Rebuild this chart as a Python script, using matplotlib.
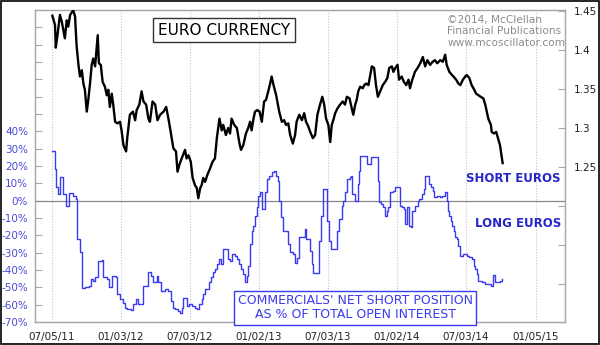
import matplotlib
matplotlib.use("Agg")
from matplotlib import pyplot as plt
from matplotlib.patches import Rectangle
import pandas as pd

# Euro currency (USD per EUR)
euro_dates = [
    "2011-07-06", "2011-07-13", "2011-07-15", "2011-07-19", "2011-07-26", "2011-07-31", "2011-08-08",
    "2011-08-13", "2011-08-17", "2011-08-22", "2011-08-30", "2011-09-04", "2011-09-08", "2011-09-13",
    "2011-09-17", "2011-09-22", "2011-09-26", "2011-09-30", "2011-10-05", "2011-10-09", "2011-10-14",
    "2011-10-18", "2011-10-22", "2011-10-27", "2011-10-31", "2011-11-03", "2011-11-06", "2011-11-11",
    "2011-11-16", "2011-11-22", "2011-11-27", "2011-12-01", "2011-12-05", "2011-12-10", "2011-12-14",
    "2011-12-19", "2011-12-25", "2012-01-01", "2012-01-05", "2012-01-10", "2012-01-17", "2012-01-20",
    "2012-01-27", "2012-02-04", "2012-02-10", "2012-02-14", "2012-02-21", "2012-02-27", "2012-03-03",
    "2012-03-10", "2012-03-16", "2012-03-20", "2012-03-27", "2012-04-03", "2012-04-09", "2012-04-16",
    "2012-04-25", "2012-05-02", "2012-05-08", "2012-05-14", "2012-05-21", "2012-05-28", "2012-06-01",
    "2012-06-06", "2012-06-12", "2012-06-21", "2012-06-25", "2012-06-30", "2012-07-06", "2012-07-11",
    "2012-07-17", "2012-07-22", "2012-07-26", "2012-07-31", "2012-08-04", "2012-08-08", "2012-08-13",
    "2012-08-19", "2012-08-26", "2012-09-02", "2012-09-08", "2012-09-13", "2012-09-20", "2012-09-26",
    "2012-09-30", "2012-10-07", "2012-10-13", "2012-10-18", "2012-10-22", "2012-10-29", "2012-11-05",
    "2012-11-12", "2012-11-16", "2012-11-22", "2012-11-29", "2012-12-05", "2012-12-10", "2012-12-14",
    "2012-12-19", "2012-12-23", "2012-12-29", "2013-01-04", "2013-01-10", "2013-01-16", "2013-01-21",
    "2013-01-27", "2013-02-01", "2013-02-05", "2013-02-10", "2013-02-17", "2013-02-20", "2013-02-25",
    "2013-03-04", "2013-03-10", "2013-03-15", "2013-03-21", "2013-03-26", "2013-04-02", "2013-04-08",
    "2013-04-12", "2013-04-19", "2013-04-26", "2013-05-02", "2013-05-07", "2013-05-13", "2013-05-18",
    "2013-05-25", "2013-05-31", "2013-06-06", "2013-06-13", "2013-06-19", "2013-06-24", "2013-06-29",
    "2013-07-05", "2013-07-10", "2013-07-14", "2013-07-18", "2013-07-23", "2013-07-29", "2013-08-05",
    "2013-08-12", "2013-08-18", "2013-08-23", "2013-08-30", "2013-09-05", "2013-09-09", "2013-09-14",
    "2013-09-18", "2013-09-22", "2013-09-27", "2013-10-04", "2013-10-08", "2013-10-13", "2013-10-19",
    "2013-10-23", "2013-10-28", "2013-11-03", "2013-11-08", "2013-11-13", "2013-11-19", "2013-11-26",
    "2013-12-02", "2013-12-08", "2013-12-13", "2013-12-20", "2013-12-24", "2013-12-29", "2014-01-04",
    "2014-01-08", "2014-01-15", "2014-01-21", "2014-01-27", "2014-02-02", "2014-02-06", "2014-02-12",
    "2014-02-19", "2014-02-26", "2014-03-05", "2014-03-12", "2014-03-18", "2014-03-24", "2014-03-31",
    "2014-04-07", "2014-04-13", "2014-04-19", "2014-04-27", "2014-05-04", "2014-05-10", "2014-05-14",
    "2014-05-21", "2014-05-28", "2014-06-01", "2014-06-08", "2014-06-14", "2014-06-19", "2014-06-26",
    "2014-07-02", "2014-07-06", "2014-07-13", "2014-07-19", "2014-07-26", "2014-07-31", "2014-08-06",
    "2014-08-12", "2014-08-19", "2014-08-24", "2014-08-28", "2014-09-01", "2014-09-08", "2014-09-10",
    "2014-09-16", "2014-09-22", "2014-09-28", "2014-10-02", "2014-10-06", "2014-10-09",
]
euro_price = [
    1.444, 1.432, 1.403, 1.417, 1.445, 1.436, 1.415,
    1.438, 1.430, 1.445, 1.451, 1.443, 1.406, 1.381,
    1.366, 1.374, 1.357, 1.349, 1.321, 1.336, 1.359,
    1.381, 1.389, 1.379, 1.402, 1.419, 1.383, 1.381,
    1.359, 1.353, 1.342, 1.349, 1.327, 1.344, 1.330,
    1.308, 1.306, 1.308, 1.297, 1.278, 1.270, 1.287,
    1.317, 1.321, 1.310, 1.323, 1.330, 1.347, 1.334,
    1.330, 1.312, 1.308, 1.334, 1.330, 1.310, 1.317,
    1.321, 1.327, 1.312, 1.295, 1.274, 1.270, 1.244,
    1.253, 1.261, 1.272, 1.261, 1.265, 1.257, 1.236,
    1.227, 1.223, 1.210, 1.223, 1.227, 1.236, 1.231,
    1.240, 1.248, 1.257, 1.261, 1.287, 1.312, 1.297,
    1.304, 1.291, 1.300, 1.293, 1.312, 1.304, 1.300,
    1.280, 1.272, 1.278, 1.293, 1.300, 1.308, 1.297,
    1.312, 1.321, 1.323, 1.321, 1.308, 1.334, 1.336,
    1.347, 1.357, 1.366, 1.355, 1.342, 1.334, 1.321,
    1.308, 1.310, 1.304, 1.306, 1.291, 1.280, 1.291,
    1.308, 1.317, 1.310, 1.319, 1.308, 1.302, 1.295,
    1.287, 1.291, 1.317, 1.330, 1.340, 1.330, 1.312,
    1.304, 1.282, 1.304, 1.310, 1.319, 1.325, 1.330,
    1.334, 1.330, 1.340, 1.338, 1.325, 1.317, 1.330,
    1.336, 1.347, 1.353, 1.351, 1.355, 1.357, 1.355,
    1.366, 1.379, 1.377, 1.355, 1.340, 1.347, 1.355,
    1.359, 1.364, 1.377, 1.379, 1.372, 1.377, 1.381,
    1.362, 1.366, 1.359, 1.355, 1.362, 1.351, 1.362,
    1.372, 1.377, 1.383, 1.391, 1.379, 1.387, 1.381,
    1.385, 1.387, 1.383, 1.387, 1.385, 1.394, 1.381,
    1.372, 1.368, 1.366, 1.362, 1.357, 1.355, 1.362,
    1.366, 1.368, 1.364, 1.355, 1.349, 1.344, 1.342,
    1.340, 1.338, 1.330, 1.321, 1.312, 1.304, 1.295,
    1.293, 1.295, 1.285, 1.278, 1.265, 1.255,
]

# Commercials' net short position, % of total open interest (weekly COT)
cot_dates = [
    "2011-07-06", "2011-07-13", "2011-07-15", "2011-07-22", "2011-07-26", "2011-08-02", "2011-08-11",
    "2011-08-20", "2011-08-30", "2011-09-06", "2011-09-08", "2011-09-10", "2011-09-17", "2011-09-22",
    "2011-09-23", "2011-09-30", "2011-10-12", "2011-10-15", "2011-10-22", "2011-10-27", "2011-11-05",
    "2011-11-14", "2011-11-18", "2011-11-27", "2011-12-03", "2011-12-10", "2011-12-21", "2011-12-25",
    "2012-01-01", "2012-01-08", "2012-01-14", "2012-01-20", "2012-01-29", "2012-02-05", "2012-02-12",
    "2012-02-18", "2012-02-25", "2012-03-01", "2012-03-10", "2012-03-14", "2012-03-22", "2012-03-29",
    "2012-04-07", "2012-04-11", "2012-04-18", "2012-04-29", "2012-05-08", "2012-05-14", "2012-05-21",
    "2012-05-25", "2012-06-03", "2012-06-08", "2012-06-12", "2012-06-16", "2012-06-27", "2012-07-02",
    "2012-07-09", "2012-07-17", "2012-07-23", "2012-07-29", "2012-08-04", "2012-08-08", "2012-08-13",
    "2012-08-24", "2012-08-28", "2012-09-02", "2012-09-08", "2012-09-13", "2012-09-20", "2012-09-23",
    "2012-09-29", "2012-10-13", "2012-10-18", "2012-10-22", "2012-10-31", "2012-11-05", "2012-11-11",
    "2012-11-15", "2012-11-21", "2012-11-27", "2012-12-01", "2012-12-05", "2012-12-10", "2012-12-14",
    "2012-12-19", "2012-12-23", "2012-12-28", "2013-01-01", "2013-01-05", "2013-01-10", "2013-01-19",
    "2013-01-23", "2013-01-30", "2013-02-05", "2013-02-11", "2013-02-17", "2013-02-23", "2013-02-25",
    "2013-03-02", "2013-03-08", "2013-03-21", "2013-03-26", "2013-04-03", "2013-04-08", "2013-04-14",
    "2013-04-19", "2013-05-05", "2013-05-08", "2013-05-18", "2013-05-22", "2013-05-26", "2013-06-09",
    "2013-06-15", "2013-06-20", "2013-07-02", "2013-07-08", "2013-07-11", "2013-07-27", "2013-08-03",
    "2013-08-10", "2013-08-14", "2013-08-18", "2013-08-23", "2013-08-30", "2013-09-02", "2013-09-05",
    "2013-09-14", "2013-09-21", "2013-09-25", "2013-09-27", "2013-10-15", "2013-10-25", "2013-11-12",
    "2013-11-14", "2013-11-17", "2013-11-21", "2013-11-26", "2013-12-02", "2013-12-07", "2013-12-11",
    "2013-12-15", "2013-12-22", "2013-12-29", "2014-01-11", "2014-01-15", "2014-01-21", "2014-01-25",
    "2014-01-28", "2014-02-04", "2014-02-09", "2014-02-12", "2014-02-19", "2014-02-26", "2014-03-03",
    "2014-03-09", "2014-03-15", "2014-03-18", "2014-03-27", "2014-04-02", "2014-04-07", "2014-04-11",
    "2014-04-18", "2014-04-25", "2014-05-01", "2014-05-10", "2014-05-14", "2014-05-17", "2014-05-21",
    "2014-05-25", "2014-05-29", "2014-06-03", "2014-06-05", "2014-06-10", "2014-06-14", "2014-06-19",
    "2014-06-27", "2014-07-06", "2014-07-13", "2014-07-19", "2014-07-24", "2014-07-28", "2014-08-02",
    "2014-08-06", "2014-08-15", "2014-08-24", "2014-09-01", "2014-09-08", "2014-09-13", "2014-09-19",
    "2014-10-01", "2014-10-06", "2014-10-08",
]
cot_pct = [
    28.9, 18.3, 7.7, 3.9, 13.5, 3.9, -2.9,
    4.2, 2.9, 1.0, -10.6, -22.0, -29.9, -41.4,
    -50.5, -50.0, -49.0, -45.3, -46.2, -44.3, -34.7,
    -34.3, -44.3, -45.3, -50.0, -43.4, -44.0, -54.0,
    -56.8, -58.8, -61.7, -62.6, -63.2, -59.7, -56.8,
    -59.7, -59.4, -49.0, -49.0, -41.4, -43.4, -47.2,
    -43.4, -47.2, -52.0, -51.0, -52.0, -57.8, -61.7,
    -62.6, -63.6, -64.6, -61.7, -55.9, -60.7, -59.7,
    -60.7, -61.7, -62.6, -59.7, -56.8, -54.0, -51.0,
    -47.2, -44.3, -41.4, -39.5, -36.6, -33.7, -36.6,
    -27.9, -33.7, -34.7, -30.8, -31.8, -33.7, -36.6,
    -39.5, -42.4, -47.2, -43.4, -37.6, -25.0, -17.3,
    -14.5, -8.7, -3.9, 2.9, 4.8, -4.8, 4.8,
    12.5, 14.5, 16.4, 17.3, 14.5, 11.6, 0.0,
    -9.6, -17.3, -25.0, -29.9, -30.8, -35.7, -32.8,
    -21.2, -16.4, -22.0, -28.9, -36.6, -42.0, -23.1,
    -8.7, 6.8, -11.6, -23.1, -27.9, -17.3, -10.6,
    -2.9, 0.0, 4.8, 12.5, 13.5, 14.5, 3.9,
    0.0, 9.6, 17.3, 26.0, 21.2, 25.0, 13.5,
    11.6, -1.0, -1.9, -3.9, -8.7, -5.8, -3.9,
    4.8, 5.8, 7.7, -2.9, -3.9, -4.8, -13.5,
    -3.9, -14.5, -15.4, -5.8, -2.9, 0.0, 1.0,
    3.9, 6.8, 14.5, 9.6, 7.7, 5.8, 1.9,
    2.9, 1.9, 2.9, 4.8, 0.0, -5.8, -8.7,
    -11.6, -14.5, -17.3, -21.2, -22.1, -26.0, -31.8,
    -30.8, -31.8, -32.4, -33.7, -37.6, -39.5, -42.4,
    -46.2, -47.2, -47.8, -48.2, -49.0, -42.8, -47.2,
    -46.2, -45.3, -45.3,
]

grid_dates = ["2011-07-05", "2012-01-03", "2012-07-03", "2013-01-02",
              "2013-07-03", "2014-01-02", "2014-07-03", "2015-01-05"]
grid_labels = ["07/05/11", "01/03/12", "07/03/12", "01/02/13",
               "07/03/13", "01/02/14", "07/03/14", "01/05/15"]
pct_ticks = [40, 30, 20, 10, 0, -10, -20, -30, -40, -50, -60, -70]
price_ticks = [1.25, 1.3, 1.35, 1.4, 1.45]

euro_x = pd.to_datetime(euro_dates)
cot_x = pd.to_datetime(cot_dates)
grid_x = pd.to_datetime(grid_dates)

blue = "#3a3af0"
label_blue = "#4b4bd8"
frame_gray = "#a8a8a8"

fig = plt.figure(figsize=(6, 3.45), dpi=100)
ax = fig.add_axes([0.0583, 0.0667, 0.8834, 0.9043])
ax2 = ax.twinx()

# COT line on the left (percent) axis
ax.plot(cot_x, cot_pct, color=blue, linewidth=1.0, drawstyle="steps-post", zorder=3)
ax.axhline(0, color="#888888", linewidth=0.9, zorder=2)
for gx in grid_x:
    ax.axvline(gx, color="#c8c8c8", linewidth=0.8, linestyle=(0, (1, 1.5)), zorder=1)

ax.set_xlim(pd.Timestamp("2011-05-21"), pd.Timestamp("2015-03-23"))
ax.set_ylim(-70, 110)
ax.set_yticks(range(-70, 110, 10))
ax.set_yticklabels([f"{t}%" if t in pct_ticks else "" for t in range(-70, 110, 10)],
                   color=label_blue, fontsize=7.5)
ax.tick_params(axis="y", direction="in", length=5, color=frame_gray, pad=5)
ax.set_xticks(grid_x)
ax.set_xticklabels(grid_labels, fontsize=7.5, color="#222222")
ax.tick_params(axis="x", length=0, pad=7)

# Euro price on the right axis
ax2.plot(euro_x, euro_price, color="black", linewidth=1.7, zorder=4)
ax2.set_ylim(1.0513, 1.4513)
ax2.set_yticks([1.1, 1.15, 1.2, 1.25, 1.3, 1.35, 1.4, 1.45])
ax2.set_yticklabels(["", "", ""] + [f"{p:g}" for p in price_ticks], fontsize=7.5, color="#222222")
ax2.tick_params(axis="y", direction="in", length=5, color=frame_gray, pad=6)

for a in (ax, ax2):
    for s in a.spines.values():
        s.set_color(frame_gray)
        s.set_linewidth(0.9)

ax2.text(0.232, 0.935, "EURO CURRENCY", transform=ax.transAxes, fontsize=11,
         color="black", va="center", ha="left",
         bbox=dict(boxstyle="square,pad=0.3", facecolor="white", edgecolor="#333333", linewidth=1.0))

ax2.text(0.778, 0.985, "\u00a92014, McClellan\nFinancial Publications\nwww.mcoscillator.com",
         transform=ax.transAxes, fontsize=7.6, color="#8c8c8c", va="top", ha="left", linespacing=1.2)

ax2.text(0.992, 0.46, "SHORT EUROS", transform=ax.transAxes, fontsize=8.5,
         fontweight="bold", color="#2525c8", ha="right", va="center")
ax2.text(0.992, 0.317, "LONG EUROS", transform=ax.transAxes, fontsize=8.5,
         fontweight="bold", color="#2525c8", ha="right", va="center")

ax2.text(0.604, 0.045, "COMMERCIALS' NET SHORT POSITION\nAS % OF TOTAL OPEN INTEREST",
         transform=ax.transAxes, fontsize=9, color=blue, ha="center", va="center",
         linespacing=1.1,
         bbox=dict(boxstyle="square,pad=0.3", facecolor="white", edgecolor=blue, linewidth=1.0),
         zorder=10)

# outer border of the picture
fig.patches.append(Rectangle((0.001, 0.002), 0.997, 0.996, transform=fig.transFigure,
                             fill=False, edgecolor="black", linewidth=1.2))

plt.savefig("out.png", dpi=100)
